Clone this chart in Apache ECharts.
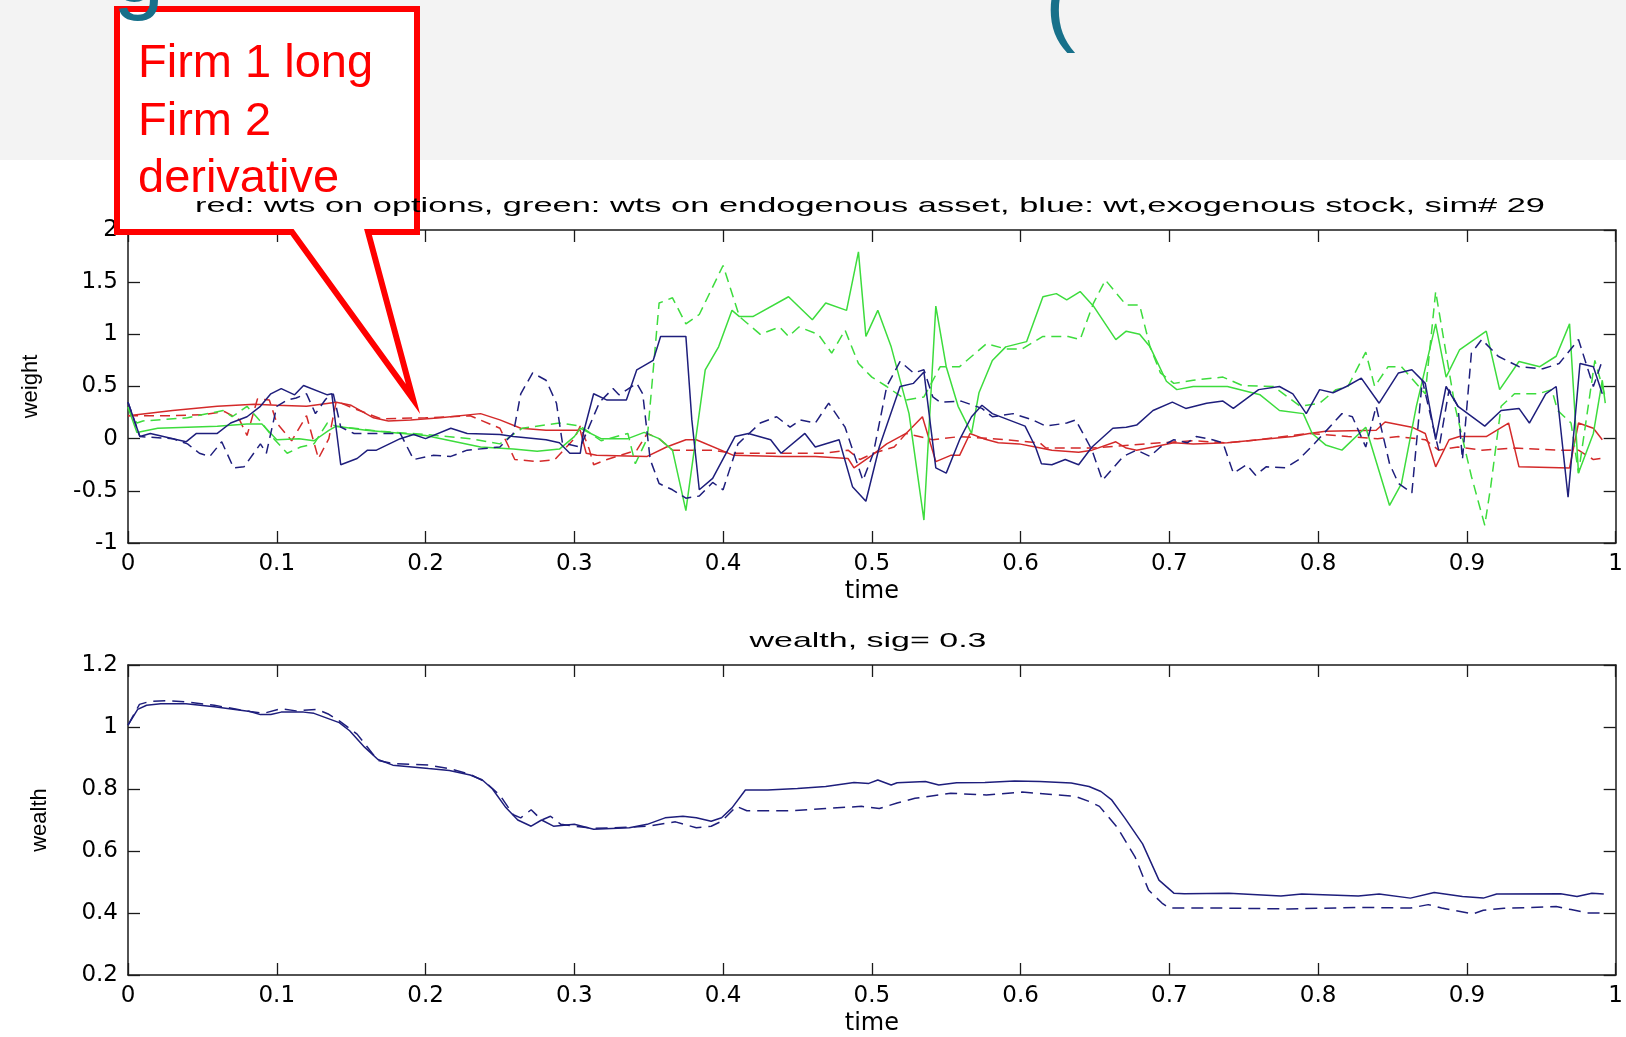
<!DOCTYPE html>
<html>
<head>
<meta charset="utf-8">
<script src="https://cdn.jsdelivr.net/npm/echarts@6/dist/echarts.min.js"></script>
<style>
  html, body { margin: 0; padding: 0; background: #ffffff; }
  #chart { width: 1626px; height: 1037px; }
</style>
</head>
<body>
<div id="chart"></div>
<script>
// ---- tick values ----
const timeTicks = [0, 0.1, 0.2, 0.3, 0.4, 0.5, 0.6, 0.7, 0.8, 0.9, 1];
const weightTicks = [-1, -0.5, 0, 0.5, 1, 1.5, 2];
const wealthTicks = [0.2, 0.4, 0.6, 0.8, 1, 1.2];

// ---- portfolio weights: [time, weight] (solid = firm 1, dashed = firm 2) ----
const optionsSolid = [[0,0.22],[0.03,0.27],[0.06,0.31],[0.085,0.33],[0.1,0.32],[0.12,0.31],[0.14,0.35],[0.15,0.32],[0.165,0.2],[0.175,0.17],[0.19,0.18],[0.21,0.2],[0.237,0.24],[0.25,0.18],[0.264,0.1],[0.281,0.08],[0.304,0.08],[0.308,-0.14],[0.315,-0.16],[0.349,-0.17],[0.362,-0.08],[0.375,-0.01],[0.382,-0.01],[0.407,-0.16],[0.439,-0.17],[0.462,-0.17],[0.484,-0.19],[0.488,-0.28],[0.5,-0.16],[0.51,-0.05],[0.523,0.05],[0.534,0.21],[0.543,-0.22],[0.553,-0.16],[0.559,-0.16],[0.566,0.05],[0.575,0.0],[0.585,-0.04],[0.599,-0.05],[0.61,-0.08],[0.621,-0.11],[0.639,-0.13],[0.648,-0.11],[0.664,-0.03],[0.671,-0.09],[0.678,-0.11],[0.689,-0.08],[0.703,-0.04],[0.716,-0.05],[0.739,-0.04],[0.76,-0.01],[0.783,0.02],[0.794,0.05],[0.805,0.07],[0.839,0.08],[0.845,0.16],[0.863,0.11],[0.872,0.05],[0.879,-0.27],[0.888,-0.01],[0.895,0.02],[0.913,0.02],[0.928,0.15],[0.935,-0.27],[0.969,-0.28],[0.975,0.15],[0.985,0.1],[0.991,-0.01]];
const optionsDashed = [[0,0.22],[0.03,0.22],[0.05,0.23],[0.065,0.26],[0.075,0.18],[0.08,0.03],[0.087,0.38],[0.095,0.37],[0.1,0.15],[0.11,-0.02],[0.12,0.22],[0.128,-0.19],[0.135,0.0],[0.14,0.36],[0.15,0.3],[0.17,0.19],[0.2,0.2],[0.23,0.22],[0.25,0.1],[0.26,-0.2],[0.275,-0.22],[0.287,-0.2],[0.3,0.0],[0.304,0.12],[0.31,-0.1],[0.313,-0.25],[0.322,-0.2],[0.342,-0.11],[0.349,0.05],[0.357,0.0],[0.366,-0.11],[0.38,-0.11],[0.393,-0.11],[0.407,-0.14],[0.452,-0.14],[0.468,-0.14],[0.484,-0.11],[0.492,-0.2],[0.501,-0.14],[0.515,-0.08],[0.523,0.05],[0.541,-0.01],[0.559,0.02],[0.581,0.0],[0.613,-0.04],[0.617,-0.09],[0.648,-0.09],[0.694,-0.04],[0.716,-0.02],[0.738,-0.04],[0.76,-0.01],[0.794,0.05],[0.82,0.02],[0.84,0.0],[0.854,0.02],[0.872,-0.01],[0.881,-0.11],[0.894,-0.08],[0.91,-0.11],[0.932,-0.09],[0.961,-0.11],[0.975,-0.11],[0.985,-0.2],[0.99,-0.19]];
const endoSolid = [[0,0.3],[0.006,0.06],[0.02,0.1],[0.06,0.12],[0.08,0.14],[0.09,0.14],[0.1,-0.01],[0.115,0.0],[0.125,-0.02],[0.135,0.08],[0.14,0.12],[0.16,0.08],[0.2,0.03],[0.237,-0.08],[0.259,-0.1],[0.275,-0.12],[0.29,-0.1],[0.3,0.02],[0.304,0.1],[0.318,0.0],[0.336,0.0],[0.347,0.06],[0.357,0.0],[0.366,-0.11],[0.375,-0.69],[0.388,0.66],[0.397,0.88],[0.406,1.23],[0.411,1.17],[0.42,1.17],[0.444,1.36],[0.46,1.14],[0.469,1.3],[0.483,1.23],[0.491,1.79],[0.496,0.98],[0.504,1.23],[0.513,0.88],[0.525,0.24],[0.535,-0.78],[0.543,1.27],[0.55,0.69],[0.558,0.31],[0.567,0.05],[0.572,0.44],[0.581,0.75],[0.59,0.88],[0.604,0.93],[0.615,1.36],[0.624,1.39],[0.631,1.33],[0.64,1.41],[0.649,1.27],[0.664,0.95],[0.671,1.03],[0.68,1.0],[0.687,0.88],[0.698,0.55],[0.705,0.47],[0.716,0.5],[0.739,0.5],[0.761,0.42],[0.774,0.27],[0.79,0.24],[0.796,0.05],[0.805,-0.06],[0.816,-0.11],[0.832,0.11],[0.848,-0.64],[0.856,-0.43],[0.866,0.31],[0.879,1.1],[0.886,0.59],[0.895,0.85],[0.913,1.03],[0.922,0.47],[0.935,0.74],[0.949,0.69],[0.96,0.79],[0.969,1.1],[0.975,-0.33],[0.985,0.05],[0.991,0.56],[0.993,0.34]];
const endoDashed = [[0,0.3],[0.006,0.15],[0.01,0.17],[0.04,0.2],[0.064,0.27],[0.07,0.21],[0.08,0.31],[0.09,0.15],[0.098,0.0],[0.107,-0.14],[0.116,-0.08],[0.125,-0.05],[0.134,0.15],[0.14,0.12],[0.17,0.07],[0.2,0.04],[0.23,0.0],[0.25,-0.05],[0.265,0.1],[0.29,0.15],[0.304,0.12],[0.318,-0.02],[0.336,0.05],[0.341,-0.24],[0.349,0.0],[0.357,1.3],[0.366,1.35],[0.375,1.1],[0.384,1.19],[0.4,1.66],[0.411,1.17],[0.425,1.0],[0.438,1.07],[0.444,0.98],[0.451,1.07],[0.464,1.0],[0.473,0.82],[0.482,1.04],[0.491,0.72],[0.5,0.59],[0.51,0.5],[0.523,0.37],[0.535,0.4],[0.546,0.69],[0.559,0.69],[0.577,0.91],[0.59,0.86],[0.601,0.86],[0.615,0.98],[0.632,0.98],[0.64,0.95],[0.649,1.3],[0.657,1.52],[0.671,1.28],[0.68,1.28],[0.687,0.88],[0.694,0.63],[0.703,0.53],[0.716,0.56],[0.736,0.59],[0.749,0.51],[0.77,0.5],[0.788,0.31],[0.801,0.34],[0.812,0.47],[0.82,0.5],[0.832,0.83],[0.838,0.5],[0.847,0.69],[0.856,0.69],[0.872,0.43],[0.879,1.41],[0.892,0.31],[0.903,-0.36],[0.912,-0.83],[0.916,-0.46],[0.923,0.31],[0.932,0.43],[0.948,0.43],[0.957,0.47],[0.961,0.27],[0.97,0.15],[0.975,-0.33],[0.986,0.75],[0.991,0.5],[0.993,0.4]];
const exoSolid = [[0,0.35],[0.008,0.02],[0.015,0.05],[0.039,-0.03],[0.046,0.05],[0.06,0.05],[0.069,0.15],[0.08,0.21],[0.089,0.31],[0.096,0.43],[0.103,0.48],[0.112,0.42],[0.118,0.51],[0.134,0.42],[0.137,0.43],[0.143,-0.25],[0.154,-0.19],[0.161,-0.11],[0.167,-0.11],[0.183,0.0],[0.192,0.04],[0.2,0.0],[0.217,0.1],[0.228,0.05],[0.25,0.04],[0.259,0.02],[0.281,-0.01],[0.29,-0.04],[0.297,-0.14],[0.304,-0.14],[0.306,0.05],[0.313,0.43],[0.322,0.37],[0.335,0.37],[0.342,0.66],[0.353,0.75],[0.358,0.98],[0.375,0.98],[0.379,0.18],[0.384,-0.49],[0.393,-0.38],[0.408,0.02],[0.417,0.05],[0.432,-0.01],[0.439,-0.14],[0.455,0.05],[0.462,-0.08],[0.478,-0.01],[0.487,-0.46],[0.496,-0.6],[0.505,-0.08],[0.519,0.5],[0.528,0.53],[0.535,0.64],[0.543,-0.28],[0.55,-0.33],[0.559,-0.01],[0.567,0.21],[0.574,0.32],[0.581,0.24],[0.592,0.18],[0.603,0.12],[0.61,-0.08],[0.614,-0.24],[0.621,-0.25],[0.63,-0.2],[0.639,-0.25],[0.648,-0.08],[0.662,0.1],[0.671,0.11],[0.678,0.13],[0.689,0.27],[0.702,0.35],[0.711,0.29],[0.725,0.34],[0.736,0.36],[0.743,0.29],[0.76,0.47],[0.774,0.5],[0.783,0.43],[0.792,0.24],[0.801,0.47],[0.81,0.44],[0.819,0.5],[0.829,0.58],[0.841,0.34],[0.854,0.63],[0.863,0.66],[0.872,0.53],[0.879,-0.01],[0.886,0.5],[0.894,0.31],[0.912,0.12],[0.923,0.27],[0.935,0.29],[0.942,0.15],[0.953,0.43],[0.96,0.5],[0.968,-0.56],[0.976,0.72],[0.985,0.69],[0.991,0.43]];
const exoDashed = [[0,0.35],[0.008,0.02],[0.03,0.0],[0.04,-0.05],[0.048,-0.14],[0.055,-0.17],[0.063,-0.03],[0.071,-0.28],[0.078,-0.27],[0.089,-0.05],[0.093,-0.14],[0.1,0.31],[0.107,0.37],[0.113,0.39],[0.12,0.43],[0.126,0.24],[0.133,0.38],[0.138,0.43],[0.143,0.11],[0.152,0.05],[0.183,0.05],[0.192,-0.2],[0.205,-0.16],[0.217,-0.17],[0.228,-0.11],[0.25,-0.08],[0.259,0.05],[0.264,0.43],[0.272,0.63],[0.281,0.56],[0.288,0.34],[0.292,-0.04],[0.304,-0.08],[0.308,0.05],[0.317,0.35],[0.326,0.48],[0.33,0.42],[0.342,0.53],[0.346,0.43],[0.351,-0.2],[0.357,-0.43],[0.366,-0.49],[0.375,-0.57],[0.384,-0.55],[0.393,-0.42],[0.4,-0.49],[0.41,-0.05],[0.425,0.15],[0.436,0.21],[0.445,0.11],[0.452,0.18],[0.462,0.15],[0.471,0.34],[0.482,0.11],[0.494,-0.4],[0.501,-0.14],[0.51,0.5],[0.519,0.74],[0.528,0.63],[0.535,0.66],[0.541,0.4],[0.546,0.35],[0.56,0.36],[0.574,0.29],[0.581,0.21],[0.595,0.24],[0.608,0.18],[0.617,0.12],[0.631,0.15],[0.637,0.18],[0.648,-0.11],[0.655,-0.4],[0.669,-0.17],[0.678,-0.11],[0.687,-0.17],[0.694,-0.08],[0.703,-0.01],[0.712,-0.04],[0.718,0.02],[0.729,-0.01],[0.736,-0.04],[0.743,-0.33],[0.752,-0.25],[0.758,-0.35],[0.765,-0.27],[0.778,-0.28],[0.787,-0.2],[0.798,-0.04],[0.816,0.24],[0.823,0.21],[0.832,-0.08],[0.839,0.31],[0.848,-0.24],[0.854,-0.43],[0.863,-0.52],[0.87,0.56],[0.881,-0.11],[0.888,0.47],[0.894,0.31],[0.897,-0.2],[0.903,0.82],[0.91,0.95],[0.921,0.79],[0.935,0.69],[0.951,0.67],[0.962,0.72],[0.975,0.95],[0.985,0.5],[0.991,0.75]];

// ---- wealth paths: [time, wealth] ----
const wealthSolid = [[0,1.006],[0.0065,1.057],[0.0125,1.07],[0.022,1.075],[0.039,1.075],[0.058,1.065],[0.082,1.05],[0.089,1.04],[0.096,1.04],[0.103,1.048],[0.118,1.048],[0.125,1.044],[0.142,1.014],[0.149,0.988],[0.159,0.935],[0.168,0.895],[0.178,0.877],[0.202,0.866],[0.216,0.86],[0.23,0.845],[0.238,0.83],[0.245,0.8],[0.254,0.74],[0.262,0.7],[0.271,0.68],[0.278,0.7],[0.286,0.68],[0.3,0.686],[0.313,0.67],[0.337,0.675],[0.349,0.686],[0.361,0.707],[0.373,0.712],[0.382,0.707],[0.392,0.696],[0.399,0.707],[0.406,0.739],[0.415,0.797],[0.43,0.797],[0.45,0.802],[0.469,0.808],[0.488,0.821],[0.498,0.818],[0.504,0.829],[0.513,0.813],[0.517,0.82],[0.536,0.824],[0.545,0.813],[0.557,0.82],[0.576,0.821],[0.596,0.826],[0.613,0.824],[0.634,0.819],[0.646,0.808],[0.654,0.792],[0.661,0.766],[0.67,0.707],[0.682,0.623],[0.693,0.506],[0.703,0.464],[0.71,0.462],[0.74,0.464],[0.775,0.455],[0.789,0.461],[0.827,0.455],[0.841,0.461],[0.862,0.448],[0.878,0.466],[0.897,0.453],[0.911,0.448],[0.92,0.461],[0.963,0.462],[0.974,0.453],[0.984,0.464],[0.992,0.461]];
const wealthDashed = [[0,1.006],[0.0077,1.073],[0.015,1.083],[0.027,1.085],[0.041,1.08],[0.058,1.07],[0.082,1.05],[0.091,1.044],[0.103,1.059],[0.113,1.052],[0.127,1.057],[0.135,1.041],[0.142,1.02],[0.154,0.977],[0.168,0.892],[0.178,0.882],[0.202,0.877],[0.216,0.866],[0.23,0.847],[0.24,0.823],[0.25,0.78],[0.259,0.717],[0.264,0.707],[0.271,0.733],[0.278,0.7],[0.284,0.712],[0.291,0.686],[0.3,0.68],[0.313,0.673],[0.337,0.677],[0.349,0.68],[0.368,0.694],[0.382,0.675],[0.392,0.68],[0.399,0.696],[0.409,0.744],[0.416,0.73],[0.445,0.73],[0.469,0.737],[0.493,0.744],[0.505,0.737],[0.517,0.755],[0.529,0.77],[0.553,0.786],[0.577,0.781],[0.601,0.79],[0.625,0.781],[0.637,0.776],[0.646,0.76],[0.653,0.744],[0.665,0.676],[0.677,0.58],[0.686,0.474],[0.695,0.432],[0.7,0.416],[0.733,0.416],[0.78,0.413],[0.827,0.418],[0.862,0.416],[0.874,0.427],[0.883,0.416],[0.904,0.397],[0.911,0.409],[0.925,0.415],[0.96,0.421],[0.97,0.411],[0.981,0.4],[0.992,0.4]];

// ---- texts ----
const weightTitle = 'red: wts on options, green: wts on endogenous asset, blue: wt,exogenous stock, sim# 29';
const wealthTitle = 'wealth, sig= 0.3';
const calloutLines = ['Firm 1 long', 'Firm 2', 'derivative'];

// ---- styling ----
const RED = '#d42a2a', GREEN = '#3ddc3d', BLUE = '#1e1e7c';
const SANS = '"Liberation Sans", Arial, sans-serif';
const WIDE = '"DejaVu Sans", sans-serif';
const FRAME = '#1a1a1a';

function step(ticks) { return +(ticks[1] - ticks[0]).toFixed(6); }

// Width-fitted scale for a horizontally stretched caption
function fitScale(text, font, width) {
  const ctx = document.createElement('canvas').getContext('2d');
  ctx.font = font;
  return width / ctx.measureText(text).width;
}

function xAxes(gridIndex) {
  const base = {
    type: 'value', gridIndex: gridIndex,
    min: timeTicks[0], max: timeTicks[timeTicks.length - 1], interval: step(timeTicks),
    axisLine: { show: true, onZero: false, lineStyle: { color: FRAME, width: 1.5 } },
    axisTick: { show: true, inside: true, length: 12, lineStyle: { color: FRAME, width: 1.3 } },
    splitLine: { show: false }
  };
  return [
    Object.assign({}, base, {
      position: 'bottom',
      name: 'time', nameLocation: 'middle', nameGap: 37,
      nameTextStyle: { fontFamily: WIDE, fontSize: 24, color: '#000' },
      axisLabel: { show: true, margin: 10, fontFamily: WIDE, fontSize: 23, color: '#000' }
    }),
    Object.assign({}, base, { position: 'top', axisLabel: { show: false } })
  ];
}

function yAxes(gridIndex, ticks, name, gap) {
  const base = {
    type: 'value', gridIndex: gridIndex,
    min: ticks[0], max: ticks[ticks.length - 1], interval: step(ticks),
    axisLine: { show: true, onZero: false, lineStyle: { color: FRAME, width: 1.5 } },
    axisTick: { show: true, inside: true, length: 12, lineStyle: { color: FRAME, width: 1.3 } },
    splitLine: { show: false }
  };
  return [
    Object.assign({}, base, {
      position: 'left',
      name: name, nameLocation: 'middle', nameGap: gap,
      nameTextStyle: { fontFamily: SANS, fontSize: 22, color: '#000' },
      axisLabel: { show: true, margin: 10, fontFamily: WIDE, fontSize: 23, color: '#000' }
    }),
    Object.assign({}, base, { position: 'right', axisLabel: { show: false } })
  ];
}

function line(data, color, dashed, xi, yi, dash) {
  return {
    type: 'line', data: data, xAxisIndex: xi, yAxisIndex: yi,
    symbol: 'none', silent: true, animation: false,
    lineStyle: { color: color, width: 1.5, type: dashed ? (dash || [10, 6]) : 'solid' },
    emphasis: { disabled: true }
  };
}

const titleFont = '21px ' + SANS;
const calloutFont = '47px ' + SANS;

const chart = echarts.init(document.getElementById('chart'), null, { renderer: 'canvas' });
chart.setOption({
  backgroundColor: '#ffffff',
  animation: false,
  grid: [
    { left: 128, top: 230, width: 1488, height: 313 },
    { left: 128, top: 665, width: 1488, height: 314 }
  ],
  xAxis: xAxes(0).concat(xAxes(1)),
  yAxis: yAxes(0, weightTicks, 'weight', 86).concat(yAxes(1, wealthTicks, 'wealth', 77)),
  series: [
    line(optionsSolid, RED, false, 0, 0),
    line(optionsDashed, RED, true, 0, 0),
    line(endoSolid, GREEN, false, 0, 0),
    line(endoDashed, GREEN, true, 0, 0),
    line(exoSolid, BLUE, false, 0, 0),
    line(exoDashed, BLUE, true, 0, 0),
    line(wealthSolid, BLUE, false, 2, 2),
    line(wealthDashed, BLUE, true, 2, 2, [12, 7])
  ],
  graphic: [
    // slide header band
    { type: 'rect', z: -5, silent: true, shape: { x: 0, y: 0, width: 1626, height: 160 }, style: { fill: '#f3f3f3' } },
    { type: 'text', z: 105, silent: true, x: 113, y: -23,
      style: { text: 'g', font: '92px ' + SANS, fill: '#17708a', align: 'left', verticalAlign: 'middle' } },
    { type: 'text', z: -4, silent: true, x: 1045, y: 9,
      style: { text: '(', font: '92px ' + SANS, fill: '#17708a', align: 'left', verticalAlign: 'middle' } },
    // callout box with pointer
    { type: 'polygon', z: 100, silent: true,
      shape: { points: [[117, 9], [417, 9], [417, 232], [368, 232], [413, 399], [292, 232], [117, 232]] },
      style: { fill: '#ffffff', stroke: '#ff0000', lineWidth: 6, lineJoin: 'miter' } },
    // plot captions
    { type: 'text', z: 110, silent: true, x: 870, y: 206, scaleX: fitScale(weightTitle, titleFont, 1350),
      style: { text: weightTitle, font: titleFont, fill: '#000', align: 'center', verticalAlign: 'middle' } },
    { type: 'text', z: 110, silent: true, x: 868, y: 641, scaleX: fitScale(wealthTitle, titleFont, 237),
      style: { text: wealthTitle, font: titleFont, fill: '#000', align: 'center', verticalAlign: 'middle' } },
    // callout text
    { type: 'text', z: 120, silent: true, x: 138, y: 64,
      style: { text: calloutLines[0], font: calloutFont, fill: '#ff0000', align: 'left', verticalAlign: 'middle' } },
    { type: 'text', z: 120, silent: true, x: 138, y: 122,
      style: { text: calloutLines[1], font: calloutFont, fill: '#ff0000', align: 'left', verticalAlign: 'middle' } },
    { type: 'text', z: 120, silent: true, x: 138, y: 179,
      style: { text: calloutLines[2], font: calloutFont, fill: '#ff0000', align: 'left', verticalAlign: 'middle' } }
  ]
});
</script>
</body>
</html>
